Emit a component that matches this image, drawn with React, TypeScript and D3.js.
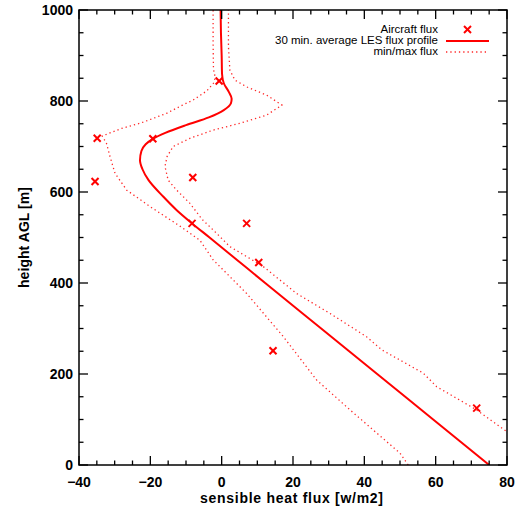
import React from "react";
import * as d3 from "d3";

// Aircraft flux observations
const aircraftFlux = [71.5, 14.4, 10.4, 7.0, -8.3, -8.1, -35.5, -34.9, -19.3, -0.7];
const aircraftHeight = [125, 251, 445, 531, 531, 632, 623, 718, 717, 844];

// 30 min. average LES flux profile
const lesHeight = [0, 100, 200, 300, 400, 450, 500, 531, 560, 590, 626, 650, 670, 690, 705, 717, 730, 747, 764, 780, 795, 805, 820, 839, 860, 900, 950, 1000];
const lesFlux = [75.0, 59.3, 43.6, 27.9, 12.2, 4.4, -3.4, -8.3, -12.6, -16.4, -20.5, -22.2, -22.9, -22.5, -21.3, -19.3, -15.8, -10.0, -3.6, 0.6, 2.6, 2.8, 2.0, 0.6, 0.1, 0.0, -0.2, -0.3];

// max flux (dotted)
const maxHeight = [0, 35, 73, 121, 172, 202, 253, 282, 333, 377, 436, 480, 509, 540, 575, 604, 626, 656, 678, 700, 718, 736, 751, 769, 791, 813, 831, 846, 868, 920, 1000];
const maxFlux = [92, 86.5, 80, 71.5, 60.3, 56.5, 44.9, 40.6, 30.4, 21.0, 11.7, 2.3, -1.4, -5.5, -8.9, -12.6, -15.0, -15.9, -15.3, -13.6, -8.9, -2.4, 5.1, 12.6, 16.9, 12.6, 7.0, 3.7, 2.3, 1.9, 1.9];

// min flux (dotted)
const minHeight = [0, 26, 121, 187, 282, 377, 451, 494, 525, 568, 604, 641, 678, 707, 723, 740, 751, 773, 791, 802, 822, 840, 852, 870, 927, 1000];
const minFlux = [52.3, 50.0, 36.0, 26.6, 17.3, 7.0, -2.4, -6.1, -11.7, -20.1, -26.6, -29.9, -31.3, -32.3, -33.5, -28.0, -22.9, -15.4, -11.0, -8.0, -4.2, -2.2, -1.8, -2.3, -2.4, -2.4];

const xTickLabels = ["-40", "-20", "0", "20", "40", "60", "80"];
const yTickLabels = ["0", "200", "400", "600", "800", "1000"];

const legendLabels = ["Aircraft flux", "30 min. average LES flux profile", "min/max flux"];

const W = 515, H = 510;
const L = 79, R = 507, T = 10, B = 465;
const RED = "#ff0000";

export default function App() {
  const x = d3.scaleLinear().domain([-40, 80]).range([L, R]);
  const y = d3.scaleLinear().domain([0, 1000]).range([B, T]);

  const line = (xs: number[], hs: number[], curve: d3.CurveFactory) =>
    d3
      .line<number>()
      .x((_, i) => x(xs[i]))
      .y((_, i) => y(hs[i]))
      .curve(curve)(hs.map((_, i) => i)) as string;

  const lesPath = line(lesFlux, lesHeight, d3.curveMonotoneY);
  const maxPath = line(maxFlux, maxHeight, d3.curveLinear);
  const minPath = line(minFlux, minHeight, d3.curveLinear);

  const xMinor = d3.range(-40, 80.01, 5);
  const yMinor = d3.range(0, 1000.01, 50);
  const xMajor = xTickLabels.map(Number);
  const yMajor = yTickLabels.map(Number);

  const font = "'Liberation Sans', Arial, Helvetica, sans-serif";
  const marker = (cx: number, cy: number, key: string | number) => (
    <g key={key} stroke={RED} strokeWidth={2}>
      <line x1={cx - 3.5} y1={cy - 3.5} x2={cx + 3.5} y2={cy + 3.5} />
      <line x1={cx - 3.5} y1={cy + 3.5} x2={cx + 3.5} y2={cy - 3.5} />
    </g>
  );

  return (
    <svg width={W} height={H} style={{ position: "absolute", left: 0, top: 0, background: "#fff" }} fontFamily={font}>
      <defs>
        <clipPath id="plotClip">
          <rect x={L} y={T} width={R - L} height={B - T} />
        </clipPath>
      </defs>
      <rect x={0} y={0} width={W} height={H} fill="#fff" />

      <g clipPath="url(#plotClip)" fill="none">
        <path d={maxPath} stroke={RED} strokeWidth={1.3} strokeDasharray="1.3 3" opacity={0.85} />
        <path d={minPath} stroke={RED} strokeWidth={1.3} strokeDasharray="1.3 3" opacity={0.85} />
        <path d={lesPath} stroke={RED} strokeWidth={2} />
      </g>
      {aircraftFlux.map((v, i) => marker(x(v), y(aircraftHeight[i]), i))}

      {/* axes box */}
      <rect x={L} y={T} width={R - L} height={B - T} fill="none" stroke="#000" strokeWidth={1.5} />

      {/* x ticks */}
      <g stroke="#000" strokeWidth={1.3}>
        {xMinor.map((v) => {
          const major = xMajor.includes(Math.round(v));
          const len = major ? 9 : 4.5;
          return (
            <g key={"xt" + v}>
              <line x1={x(v)} x2={x(v)} y1={B} y2={B - len} />
              <line x1={x(v)} x2={x(v)} y1={T} y2={T + len} />
            </g>
          );
        })}
        {yMinor.map((v) => {
          const major = yMajor.includes(Math.round(v));
          const len = major ? 9 : 4.5;
          return (
            <g key={"yt" + v}>
              <line x1={L} x2={L + len} y1={y(v)} y2={y(v)} />
              <line x1={R} x2={R - len} y1={y(v)} y2={y(v)} />
            </g>
          );
        })}
      </g>

      {/* tick labels */}
      <g fontSize={14} fontWeight="bold" fill="#000">
        {xTickLabels.map((t) => (
          <text key={"xl" + t} x={x(Number(t))} y={487} textAnchor="middle">
            {t.replace("-", "\u2212")}
          </text>
        ))}
        {yTickLabels.map((t) => (
          <text key={"yl" + t} x={73} y={y(Number(t)) + 5} textAnchor="end">
            {t}
          </text>
        ))}
      </g>

      {/* axis titles */}
      <text x={291.5} y={503} textAnchor="middle" fontSize={14} fontWeight="bold" textLength={183} lengthAdjust="spacing">
        sensible heat flux [w/m2]
      </text>
      <text
        transform={`translate(29,237.5) rotate(-90)`}
        textAnchor="middle"
        fontSize={14}
        fontWeight="bold"
        textLength={101}
        lengthAdjust="spacing"
      >
        height AGL [m]
      </text>

      {/* legend */}
      <g fontSize={11.5} fill="#000">
        {legendLabels.map((t, i) => (
          <text key={"lg" + i} x={438} y={33 + i * 11} textAnchor="end">
            {t}
          </text>
        ))}
      </g>
      {marker(467.5, 29.5, "lgm")}
      <line x1={446} x2={489} y1={41} y2={41} stroke={RED} strokeWidth={2} />
      <line x1={446} x2={489} y1={52} y2={52} stroke={RED} strokeWidth={1.3} strokeDasharray="1.3 3" opacity={0.85} />
    </svg>
  );
}
